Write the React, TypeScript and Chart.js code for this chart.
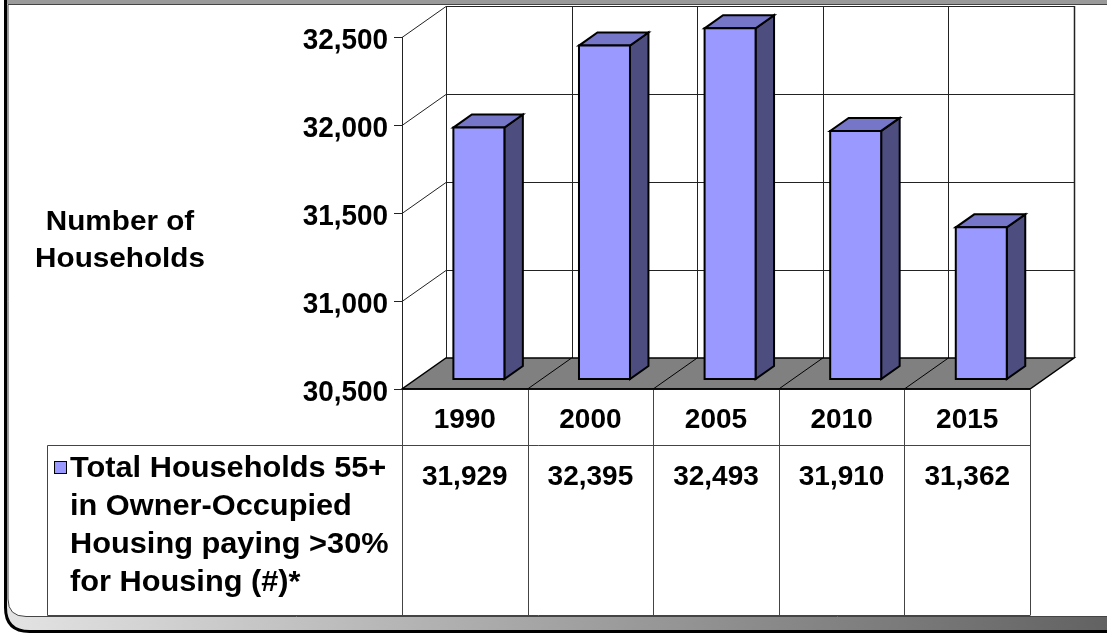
import { useEffect, useRef } from "react";
import { Chart, registerables } from "chart.js";

Chart.register(...registerables);

const categories = ["1990", "2000", "2005", "2010", "2015"];
const values = [31929, 32395, 32493, 31910, 31362];
const valueLabels = ["31,929", "32,395", "32,493", "31,910", "31,362"];
const yTicks = [30500, 31000, 31500, 32000, 32500];
const yTickLabels = ["30,500", "31,000", "31,500", "32,000", "32,500"];
const axisTitle = ["Number of", "Households"];
const seriesName = [
  "Total Households 55+",
  "in Owner-Occupied",
  "Housing paying >30%",
  "for Housing (#)*",
];

const FONT = '"Liberation Sans", Arial, sans-serif';
const DX = 44;
const DY = 31;
const F1 = 0.32;
const F2 = 0.74;

function txt(ctx: CanvasRenderingContext2D, s: string, x: number, y: number, align: CanvasTextAlign, sx: number) {
  ctx.save();
  ctx.translate(x, y);
  ctx.scale(sx, 1);
  ctx.textAlign = align;
  ctx.textBaseline = "alphabetic";
  ctx.fillText(s, 0, 0);
  ctx.restore();
}

function poly(ctx: CanvasRenderingContext2D, pts: number[][], fill: string | null, stroke: string | null, lw: number) {
  ctx.beginPath();
  ctx.moveTo(pts[0][0], pts[0][1]);
  for (let i = 1; i < pts.length; i++) ctx.lineTo(pts[i][0], pts[i][1]);
  ctx.closePath();
  if (fill) {
    ctx.fillStyle = fill;
    ctx.fill();
  }
  if (stroke) {
    ctx.strokeStyle = stroke;
    ctx.lineWidth = lw;
    ctx.lineJoin = "miter";
    ctx.stroke();
  }
}

function line(ctx: CanvasRenderingContext2D, x1: number, y1: number, x2: number, y2: number, color: string, lw: number) {
  ctx.beginPath();
  ctx.moveTo(x1, y1);
  ctx.lineTo(x2, y2);
  ctx.strokeStyle = color;
  ctx.lineWidth = lw;
  ctx.stroke();
}

function roundRect(ctx: CanvasRenderingContext2D, x: number, y: number, w: number, h: number, r: number) {
  ctx.beginPath();
  ctx.moveTo(x + r, y);
  ctx.lineTo(x + w - r, y);
  ctx.quadraticCurveTo(x + w, y, x + w, y + r);
  ctx.lineTo(x + w, y + h - r);
  ctx.quadraticCurveTo(x + w, y + h, x + w - r, y + h);
  ctx.lineTo(x + r, y + h);
  ctx.quadraticCurveTo(x, y + h, x, y + h - r);
  ctx.lineTo(x, y + r);
  ctx.quadraticCurveTo(x, y, x + r, y);
  ctx.closePath();
}

const plot3d = {
  id: "plot3d",
  beforeDraw(chart: any) {
    const ctx: CanvasRenderingContext2D = chart.ctx;
    const W = chart.width;
    ctx.save();
    ctx.fillStyle = "#ffffff";
    ctx.fillRect(0, 0, W, chart.height);
    const g = ctx.createLinearGradient(0, 0, W, 0);
    g.addColorStop(0, "#e4e4e4");
    g.addColorStop(1, "#626262");
    roundRect(ctx, 5.5, -40, 1140, 671.5, 24);
    ctx.fillStyle = g;
    ctx.fill();
    ctx.strokeStyle = "#000";
    ctx.lineWidth = 3;
    ctx.stroke();
    ctx.fillStyle = "#9a9a9a";
    ctx.fillRect(7, 0, W, 4);
    ctx.beginPath();
    ctx.moveTo(W + 20, 4.5);
    ctx.lineTo(8, 4.5);
    ctx.lineTo(8, 599);
    ctx.quadraticCurveTo(8, 616.5, 26, 616.5);
    ctx.lineTo(W + 20, 616.5);
    ctx.closePath();
    ctx.fillStyle = "#ffffff";
    ctx.fill();
    ctx.strokeStyle = "#444";
    ctx.lineWidth = 1;
    ctx.stroke();
    ctx.restore();
  },
  afterDraw(chart: any) {
    const ctx: CanvasRenderingContext2D = chart.ctx;
    const xs = chart.scales.x;
    const ys = chart.scales.y;
    const area = chart.chartArea;
    const L = area.left;
    const R = area.right;
    const yb = ys.getPixelForValue(yTicks[0]);
    const n = categories.length;
    const band = (R - L) / n;
    const bounds: number[] = [];
    for (let i = 0; i <= n; i++) {
      const c = i < n ? xs.getPixelForValue(i) - band / 2 : xs.getPixelForValue(n - 1) + band / 2;
      bounds.push(c);
    }
    ctx.save();
    const gridC = "#222";
    const topY = ys.getPixelForValue(yTicks[yTicks.length - 1]) - DY;
    const botY = yb - DY;
    ctx.fillStyle = "#fff";
    ctx.fillRect(L + DX, topY, R - L, botY - topY);
    for (let i = 1; i < yTicks.length; i++) {
      const y = Math.round(ys.getPixelForValue(yTicks[i]) - DY) + 0.5;
      line(ctx, L + DX, y, R + DX, y, gridC, 1);
      line(ctx, L, Math.round(ys.getPixelForValue(yTicks[i])) + 0.5, L + DX, y, gridC, 1);
    }
    for (let i = 0; i <= n; i++) {
      const x = Math.round(bounds[i] + DX) + 0.5;
      line(ctx, x, topY, x, botY, gridC, i === n ? 1.5 : 1);
    }
    line(ctx, L + 0.5, ys.getPixelForValue(yTicks[yTicks.length - 1]), L + 0.5, yb, gridC, 1);
    poly(ctx, [[L, yb], [R, yb], [R + DX, yb - DY], [L + DX, yb - DY]], "#808080", "#000", 1.5);
    for (let i = 1; i < n; i++) {
      line(ctx, bounds[i], yb, bounds[i] + DX, yb - DY, "#000", 1);
    }
    ctx.fillStyle = "#000";
    ctx.font = `bold 30px ${FONT}`;
    for (let i = 0; i < yTicks.length; i++) {
      const y = Math.round(ys.getPixelForValue(yTicks[i])) + 0.5;
      line(ctx, L - 8, y, L, y, gridC, 1);
      ctx.fillStyle = "#000";
      txt(ctx, yTickLabels[i], L - 14, y + 11, "right", 0.93);
    }
    const meta = chart.getDatasetMeta(0);
    const bdx = (F2 - F1) * DX;
    const bdy = (F2 - F1) * DY;
    meta.data.forEach((el: any, i: number) => {
      const w = el.width;
      const x0 = el.x - w / 2 + F1 * DX;
      const x1 = x0 + w;
      const t = ys.getPixelForValue(values[i]) - F1 * DY;
      const b = yb - F1 * DY;
      poly(ctx, [[x1, t], [x1 + bdx, t - bdy], [x1 + bdx, b - bdy], [x1, b]], "#4d4d80", "#000", 2);
      poly(ctx, [[x0, t], [x1, t], [x1 + bdx, t - bdy], [x0 + bdx, t - bdy]], "#7676c8", "#000", 2);
      poly(ctx, [[x0, t], [x1, t], [x1, b], [x0, b]], "#9999ff", "#000", 2);
    });
    const tableC = "#444";
    const rowY = 445.5;
    const tableBot = 615.5;
    const legL = 47.5;
    for (let i = 0; i <= n; i++) {
      const x = Math.round(bounds[i]) + 0.5;
      line(ctx, x, yb, x, tableBot, tableC, 1);
    }
    line(ctx, legL, rowY, R, rowY, tableC, 1);
    line(ctx, legL, tableBot, R, tableBot, tableC, 1);
    line(ctx, legL, rowY, legL, tableBot, tableC, 1);
    line(ctx, L, yb, R, yb, "#000", 1.5);
    ctx.fillStyle = "#000";
    ctx.font = `bold 28px ${FONT}`;
    for (let i = 0; i < n; i++) {
      const c = xs.getPixelForValue(i);
      txt(ctx, categories[i], c, 428, "center", 1);
      txt(ctx, valueLabels[i], c, 485, "center", 1);
    }
    ctx.fillStyle = "#9999ff";
    ctx.fillRect(54, 461, 12, 12);
    ctx.strokeStyle = "#000";
    ctx.lineWidth = 1;
    ctx.strokeRect(54.5, 461.5, 12, 12);
    ctx.fillStyle = "#000";
    ctx.font = `bold 29px ${FONT}`;
    seriesName.forEach((s, i) => txt(ctx, s, 70, 477 + i * 38, "left", 1.06));
    ctx.font = `bold 28px ${FONT}`;
    axisTitle.forEach((s, i) => txt(ctx, s, 120, 230 + i * 37, "center", 1.06));
    ctx.restore();
  },
};

export default function App() {
  const ref = useRef<HTMLCanvasElement | null>(null);
  useEffect(() => {
    if (!ref.current) return;
    const chart = new Chart(ref.current, {
      type: "bar",
      data: {
        labels: categories,
        datasets: [
          {
            label: seriesName.join(" "),
            data: values,
            backgroundColor: "rgba(0,0,0,0)",
            borderWidth: 0,
            barPercentage: 0.406,
            categoryPercentage: 1,
          },
        ],
      },
      options: {
        animation: false,
        responsive: false,
        devicePixelRatio: 1,
        layout: { padding: { left: 402, right: 77, top: 37, bottom: 245 } },
        plugins: { legend: { display: false }, tooltip: { enabled: false } },
        scales: {
          x: { display: false, offset: true, grid: { display: false } },
          y: { display: false, min: 30500, max: 32500 },
        },
      },
      plugins: [plot3d],
    });
    return () => chart.destroy();
  }, []);
  return (
    <div style={{ position: "fixed", left: 0, top: 0, width: 1107, height: 634, background: "#fff" }}>
      <canvas ref={ref} width={1107} height={634} style={{ display: "block" }} />
    </div>
  );
}
